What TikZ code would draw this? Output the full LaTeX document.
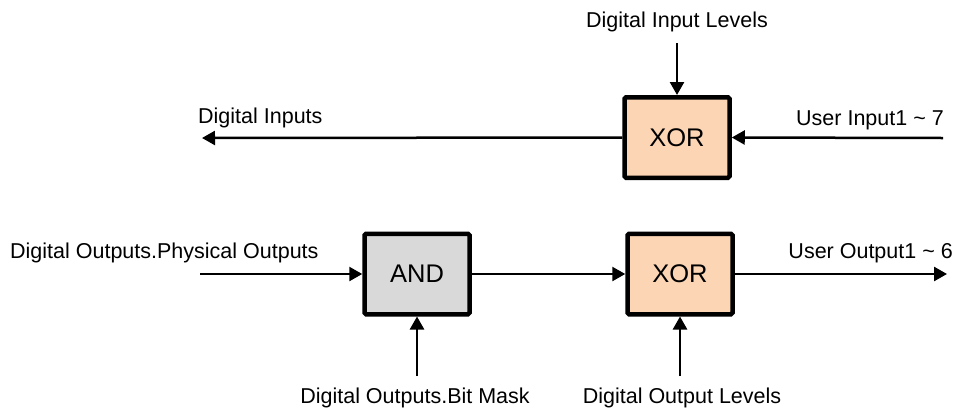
\documentclass[tikz,border=0pt]{standalone}
\usepackage{fontspec}
\setmainfont{Liberation Sans}
\usetikzlibrary{positioning,arrows.meta}
\definecolor{peach}{HTML}{FCD5B4}
\definecolor{gategray}{HTML}{D9D9D9}

\begin{document}
\begin{tikzpicture}[
        x=1pt, y=-1pt,
        font=\fontsize{21.5}{26}\selectfont,
        gate/.style={
            draw,
            line width=4.5pt,
            rounded corners=1.5pt,
            minimum width=105pt,
            minimum height=80.5pt,
            font=\fontsize{25.5}{30}\selectfont
        },
        lbl/.style={inner sep=0pt, anchor=base},
        sig/.style={-{Triangle[length=13pt,width=14pt]}, line width=2.5pt}
    ]
    \useasboundingbox (0,0) rectangle (963,413);

    % gates
    \node[gate, fill=peach] (XI) at (677,137.5) {XOR};
    \node[gate, fill=gategray] (AND) at (417,274) {AND};
    \node[gate, fill=peach] (XO) at (680,274) {XOR};

    % free ends
    \coordinate (lvlin) at (677,43);
    \coordinate (uin) at (943,138);
    \coordinate (din) at (202,138);
    \coordinate (phys) at (200,274);
    \coordinate (uout) at (947,274);
    \coordinate (mask) at (417,376);
    \coordinate (lvlout) at (680,376);

    % labels
    \node[lbl] (lvlinL) at (677,27) {Digital Input Levels};
    \node[lbl, anchor=base west] (dinL) at (198,123) {Digital Inputs};
    \node[lbl, anchor=base east] (uinL) at (944,125) {User Input1 \textasciitilde{} 7};
    \node[lbl, anchor=base west] (physL) at (10,258) {Digital Outputs.Physical Outputs};
    \node[lbl, anchor=base east] (uoutL) at (953,258) {User Output1 \textasciitilde{} 6};
    \node[lbl] (maskL) at (415,403) {Digital Outputs.Bit Mask};
    \node[lbl] (lvloutL) at (682,403) {Digital Output Levels};

    % signals
    \draw[sig] (lvlin) -- (XI.north);
    \draw[sig] (uin) -- (XI.east);
    \draw[sig] (XI.west) -- (din);
    \draw[sig] (phys) -- (AND.west);
    \draw[sig] (AND.east) -- (XO.west);
    \draw[sig] (XO.east) -- (uout);
    \draw[sig] (mask) -- (AND.south);
    \draw[sig] (lvlout) -- (XO.south);
\end{tikzpicture}
\end{document}
